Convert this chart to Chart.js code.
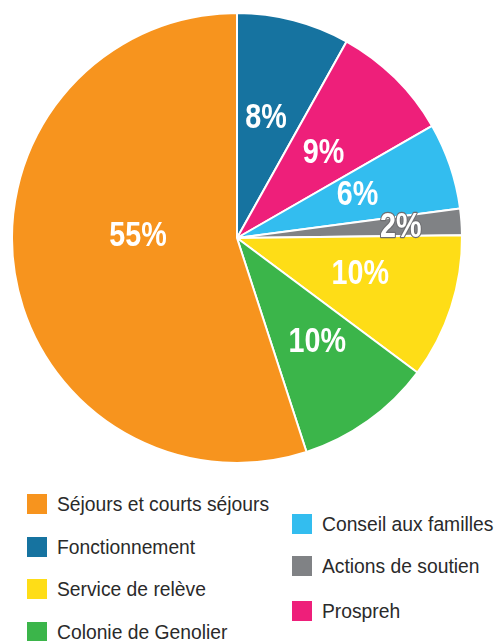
<!DOCTYPE html>
<html>
<head>
<meta charset="utf-8">
<script src="https://cdn.jsdelivr.net/npm/chart.js@4.4.0/dist/chart.umd.min.js"></script>
<style>
  html, body { margin: 0; padding: 0; background: #fff; }
  body { width: 494px; height: 641px; position: relative; overflow: hidden; }
  #pieBox { position: absolute; left: 0; top: 12px; width: 474px; height: 452px; }
  .leg { position: absolute; height: 20px; white-space: nowrap;
         font-family: "Liberation Sans", Arial, sans-serif; font-size: 20.5px; color: #2a2a2a; }
  .leg span.sw { position: absolute; left: 0; top: 0; width: 20px; height: 20px; }
  .leg span.tx { position: absolute; left: 30px; top: -2px; line-height: 24px;
                 transform: scaleX(0.94); transform-origin: 0 50%; }
</style>
</head>
<body>
<div id="pieBox"><canvas id="pieChart"></canvas></div>
<div id="legend"></div>
<script>
// slices, clockwise from 12 o'clock
const sliceLabels = ['Fonctionnement', 'Prospreh', 'Conseil aux familles', 'Actions de soutien',
                     'Service de relève', 'Colonie de Genolier', 'Séjours et courts séjours'];
const sliceValues = [8.1, 8.6, 6.2, 1.9, 10.4, 9.8, 55.0];
const sliceText   = ['8%', '9%', '6%', '2%', '10%', '10%', '55%'];
const sliceColors = ['#1673a0', '#ee1f7a', '#33bdef', '#808285', '#fedd17', '#3bb54a', '#f7941e'];

// legend columns
const legendLeft  = ['Séjours et courts séjours', 'Fonctionnement', 'Service de relève', 'Colonie de Genolier'];
const legendRight = ['Conseil aux familles', 'Actions de soutien', 'Prospreh'];

document.addEventListener('DOMContentLoaded', function () {

    // label placement: fraction of radius and angle shift (deg) from mid-angle
    const labelPlace = [[0.55, -1], [0.54, 0.8], [0.57, -1.3], [0.73, 0], [0.57, -2], [0.58, -2.3], [0.44, 10.5]];
    const narrow = 0.82; // squeeze bold sans to look condensed

    const pieLabels = {
        id: 'pieLabels',
        afterDatasetsDraw(chart) {
            const ctx = chart.ctx;
            const arcs = chart.getDatasetMeta(0).data;
            arcs.forEach((arc, i) => {
                const p = arc.getProps(['x', 'y', 'startAngle', 'endAngle', 'outerRadius'], true);
                const mid = (p.startAngle + p.endAngle) / 2 + labelPlace[i][1] * Math.PI / 180;
                const r = p.outerRadius * labelPlace[i][0];
                const x = p.x + Math.cos(mid) * r;
                const y = p.y + Math.sin(mid) * r + 1;
                ctx.save();
                ctx.translate(x, y);
                ctx.scale(narrow, 1);
                ctx.textAlign = 'center';
                ctx.textBaseline = 'middle';
                ctx.font = 'bold 35px "Liberation Sans", Arial, sans-serif';
                if (sliceValues[i] < 3) {
                    ctx.lineWidth = 2.5;
                    ctx.strokeStyle = '#6d6e71';
                    ctx.lineJoin = 'round';
                    ctx.strokeText(sliceText[i], 0, 0);
                }
                ctx.fillStyle = '#ffffff';
                ctx.fillText(sliceText[i], 0, 0);
                ctx.restore();
            });
        }
    };

    new Chart(document.getElementById('pieChart').getContext('2d'), {
        type: 'pie',
        data: {
            labels: sliceLabels,
            datasets: [{
                data: sliceValues,
                backgroundColor: sliceColors,
                borderColor: '#ffffff',
                borderWidth: 2
            }]
        },
        options: {
            responsive: true,
            maintainAspectRatio: false,
            animation: false,
            layout: { padding: 0 },
            plugins: {
                legend: { display: false },
                tooltip: { enabled: false }
            }
        },
        plugins: [pieLabels]
    });

    // legend, two columns
    const legendBox = document.getElementById('legend');
    function addItem(name, left, top) {
        const el = document.createElement('div');
        el.className = 'leg';
        el.style.left = left + 'px';
        el.style.top = top + 'px';
        const sw = document.createElement('span');
        sw.className = 'sw';
        sw.style.background = sliceColors[sliceLabels.indexOf(name)];
        const tx = document.createElement('span');
        tx.className = 'tx';
        tx.textContent = name;
        el.appendChild(sw);
        el.appendChild(tx);
        legendBox.appendChild(el);
    }
    const leftTops = [494, 537, 579, 622];
    const rightTops = [514, 556, 601];
    legendLeft.forEach((n, i) => addItem(n, 27, leftTops[i]));
    legendRight.forEach((n, i) => addItem(n, 292, rightTops[i]));
});
</script>
</body>
</html>
